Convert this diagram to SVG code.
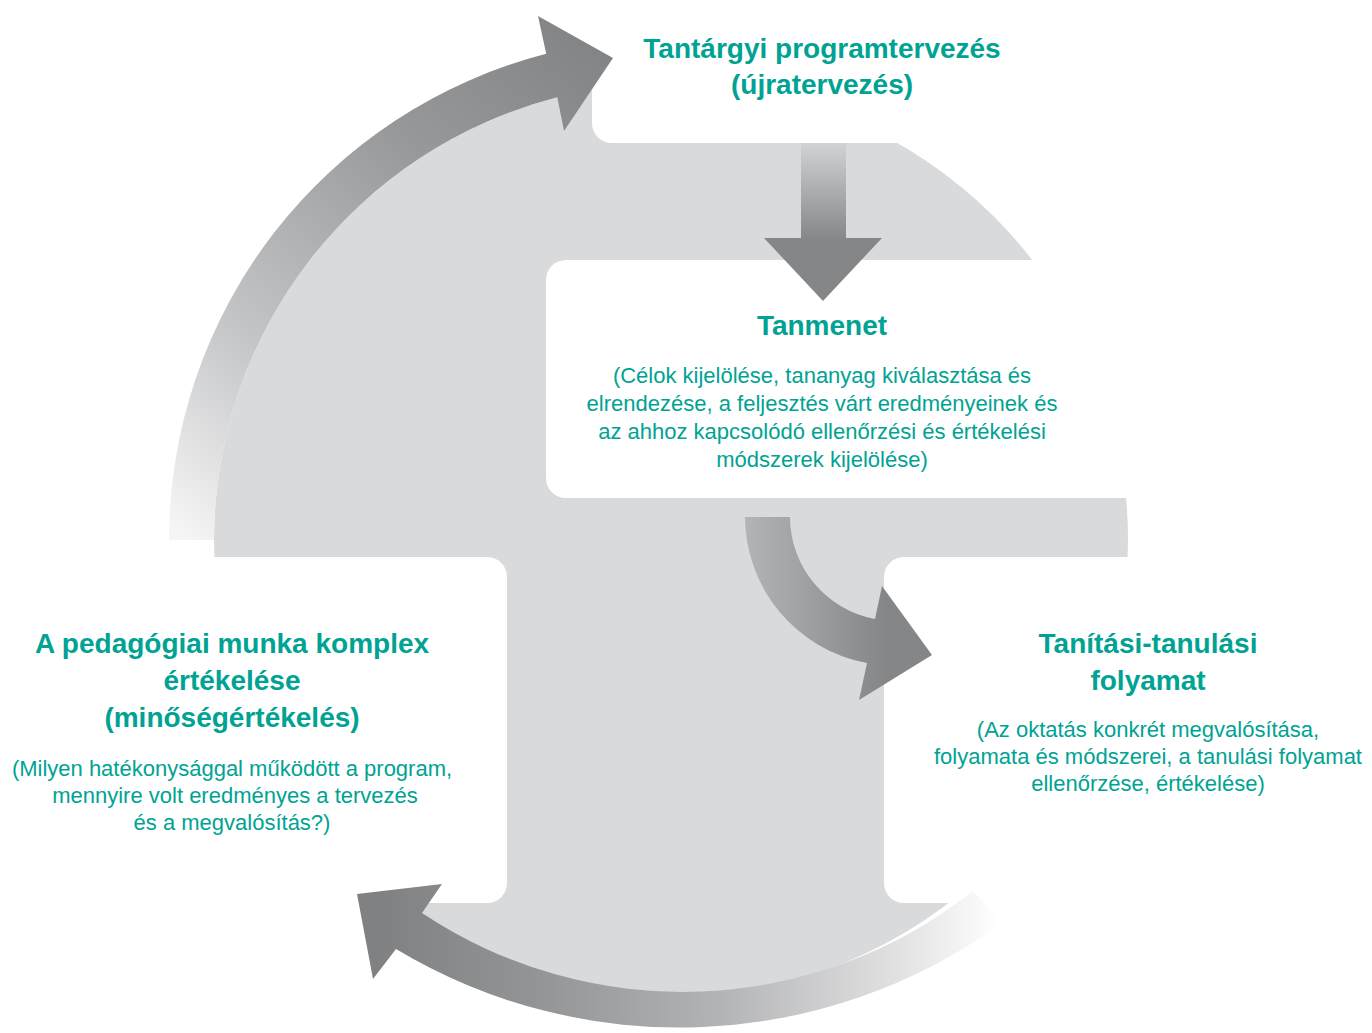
<svg xmlns="http://www.w3.org/2000/svg" width="1372" height="1033" viewBox="0 0 1372 1033">
  <style>
    .box { fill: #ffffff; }
    .head { font-family: "Liberation Sans", Arial, sans-serif; font-weight: bold; font-size: 28px; fill: #00a393; text-anchor: middle; }
    .body { font-family: "Liberation Sans", Arial, sans-serif; font-size: 22px; fill: #00a393; text-anchor: middle; }
  </style>
  <defs>
    <linearGradient id="gTopLeft" gradientUnits="userSpaceOnUse" x1="190" y1="540" x2="600" y2="50">
      <stop offset="0" stop-color="#f5f5f5"/>
      <stop offset="0.3" stop-color="#c4c5c7"/>
      <stop offset="0.7" stop-color="#97989a"/>
      <stop offset="1" stop-color="#838486"/>
    </linearGradient>
    <linearGradient id="gBottom" gradientUnits="userSpaceOnUse" x1="1000" y1="0" x2="380" y2="0">
      <stop offset="0" stop-color="#ffffff"/>
      <stop offset="0.15" stop-color="#e4e4e5"/>
      <stop offset="0.45" stop-color="#b3b4b6"/>
      <stop offset="0.75" stop-color="#939496"/>
      <stop offset="1" stop-color="#808183"/>
    </linearGradient>
    <linearGradient id="gDown" gradientUnits="userSpaceOnUse" x1="0" y1="143" x2="0" y2="240">
      <stop offset="0" stop-color="#d2d3d5"/>
      <stop offset="1" stop-color="#858688"/>
    </linearGradient>
    <linearGradient id="gCurve" gradientUnits="userSpaceOnUse" x1="745" y1="0" x2="885" y2="0">
      <stop offset="0" stop-color="#b3b4b6"/>
      <stop offset="1" stop-color="#858688"/>
    </linearGradient>
  </defs>

  <rect x="0" y="0" width="1372" height="1033" fill="#ffffff"/>

  <g id="background">
    <circle cx="671" cy="540" r="457" fill="#d9dadc"/>
  </g>

  <g id="node-program">
    <rect class="box" x="592" y="-40" width="900" height="183" rx="20"/>
    <text class="head" x="822" y="58">Tantárgyi programtervezés</text>
    <text class="head" x="822" y="94">(újratervezés)</text>
  </g>

  <g id="node-tanmenet">
    <rect class="box" x="546" y="260" width="900" height="238" rx="20"/>
    <text class="head" x="822" y="335">Tanmenet</text>
    <text class="body" x="822" y="383">(Célok kijelölése, tananyag kiválasztása és</text>
    <text class="body" x="822" y="411">elrendezése, a feljesztés várt eredményeinek és</text>
    <text class="body" x="822" y="439">az ahhoz kapcsolódó ellenőrzési és értékelési</text>
    <text class="body" x="822" y="467">módszerek kijelölése)</text>
  </g>

  <g id="node-ertekeles">
    <rect class="box" x="-100" y="557" width="607" height="346" rx="20"/>
    <text class="head" x="232" y="653">A pedagógiai munka komplex</text>
    <text class="head" x="232" y="690">értékelése</text>
    <text class="head" x="232" y="727">(minőségértékelés)</text>
    <text class="body" x="232" y="776">(Milyen hatékonysággal működött a program,</text>
    <text class="body" x="235" y="803">mennyire volt eredményes a tervezés</text>
    <text class="body" x="232" y="830">és a megvalósítás?)</text>
  </g>

  <g id="node-folyamat">
    <rect class="box" x="884" y="557" width="600" height="346" rx="20"/>
    <text class="head" x="1148" y="653">Tanítási-tanulási</text>
    <text class="head" x="1148" y="690">folyamat</text>
    <text class="body" x="1148" y="737">(Az oktatás konkrét megvalósítása,</text>
    <text class="body" x="1148" y="764">folyamata és módszerei, a tanulási folyamat</text>
    <text class="body" x="1148" y="791">ellenőrzése, értékelése)</text>
  </g>

  <g id="connectors">
    <path id="arrow-topleft" fill="url(#gTopLeft)" d="M 169,540 A 502 502 0 0 1 546.2,53.8 L 538,16 L 613,58 L 564,131 L 557.3,97.3 A 457 457 0 0 0 214,540 Z"/>
    <path id="arrow-down" fill="url(#gDown)" d="M 801,143 L 846,143 L 846,238 L 882,238 L 823,301 L 764,238 L 801,238 Z"/>
    <path id="arrow-curve" fill="url(#gCurve)" d="M 745,517 L 790,517 A 104 104 0 0 0 875,619 L 882,586 L 932,655 L 859,700 L 867,663 A 149 149 0 0 1 745,517 Z"/>
    <path id="arrow-bottom" fill="url(#gBottom)" d="M 973,891 A 469 469 0 0 1 422,913 L 442,884 L 357,894 L 373,979 L 396,949 A 550 550 0 0 0 1002,923 Z"/>
  </g>
</svg>
